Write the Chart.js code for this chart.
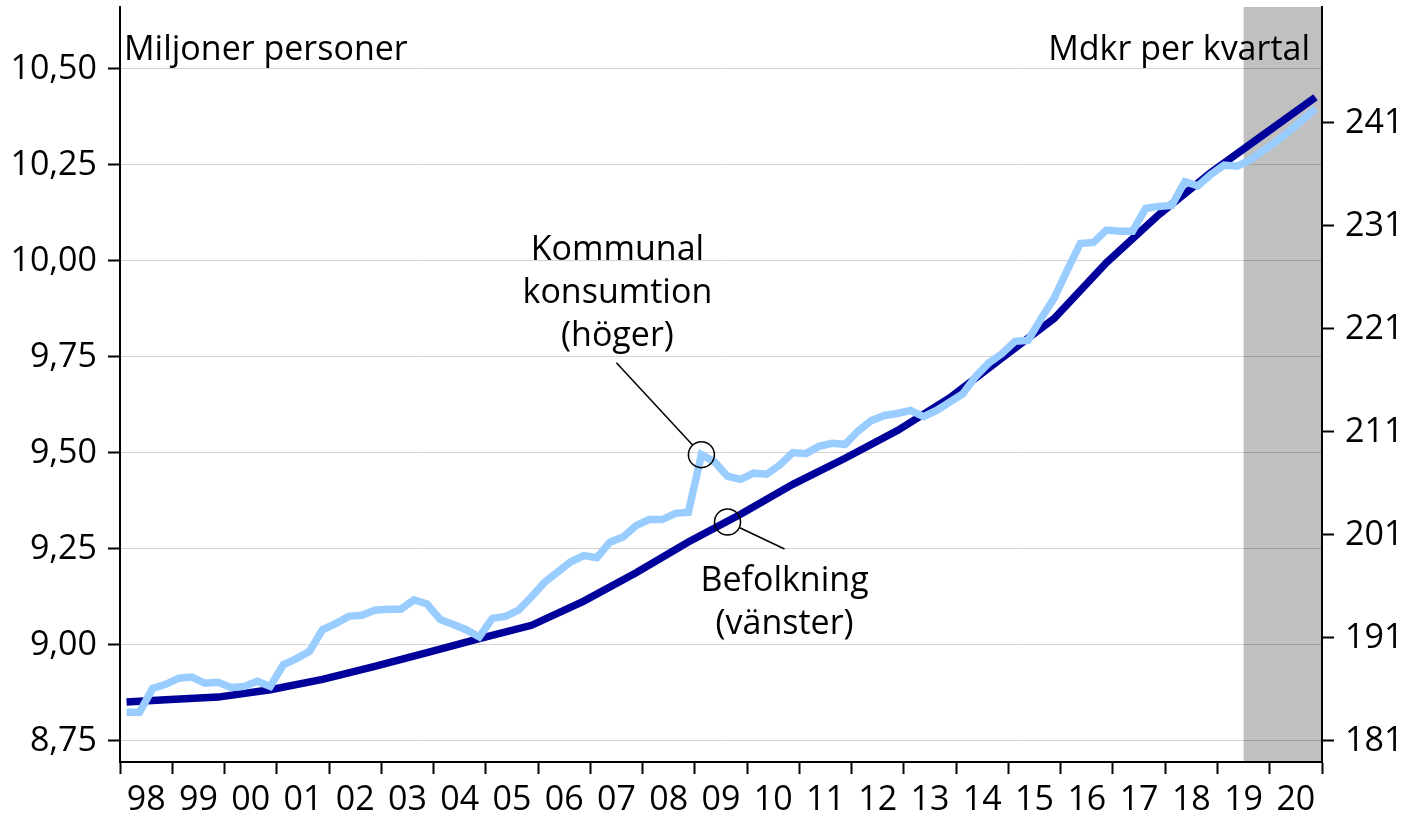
<!DOCTYPE html>
<html>
<head>
<meta charset="utf-8">
<script src="https://cdn.jsdelivr.net/npm/chart.js@4.4.1/dist/chart.umd.min.js"></script>
<style>
  html,body{margin:0;padding:0;background:#fff;}
  #wrap{width:1403px;height:818px;}
</style>
</head>
<body>
<div id="wrap"><canvas id="chart" width="1403" height="818"></canvas></div>
<script>
/* data */
const years = ['98','99','00','01','02','03','04','05','06','07','08','09','10','11','12','13','14','15','16','17','18','19','20'];

// Befolkning (miljoner), first quarter 1998 then each Q4
const popStart = 8.851;
const popYearEnd = [8.857, 8.864, 8.883, 8.910, 8.944, 8.980, 9.016, 9.051, 9.114, 9.188, 9.268, 9.340,
                    9.418, 9.486, 9.558, 9.643, 9.747, 9.850, 9.995, 10.120, 10.230, 10.328, 10.426];

// Kommunal konsumtion (mdkr per kvartal), 1998 Q1 .. 2020 Q4
const consumption = [
  183.8, 183.8, 186.1, 186.5, 187.1, 187.2, 186.6, 186.7, 186.2, 186.3, 186.8, 186.3,
  188.4, 189.0, 189.7, 191.8, 192.4, 193.1, 193.2, 193.7, 193.8, 193.8, 194.7, 194.3,
  192.8, 192.3, 191.8, 191.1, 192.9, 193.1, 193.7, 195.0, 196.4, 197.4, 198.4, 199.0,
  198.8, 200.3, 200.8, 201.9, 202.5, 202.5, 203.1, 203.2, 208.8, 208.1, 206.7, 206.4,
  207.0, 206.9, 207.8, 209.0, 208.9, 209.6, 209.9, 209.8, 211.1, 212.1, 212.6, 212.8,
  213.1, 212.5, 213.1, 213.9, 214.7, 216.4, 217.7, 218.6, 219.8, 219.9, 222.0, 224.0,
  226.7, 229.3, 229.4, 230.6, 230.5, 230.5, 232.7, 232.9, 233.0, 235.3, 234.9, 236.0,
  236.9, 236.8, 237.4, 238.3, 239.2, 240.2, 241.3, 242.4
];

const leftTicks  = [8.75, 9.00, 9.25, 9.50, 9.75, 10.00, 10.25, 10.50];
const rightTicks = [181, 191, 201, 211, 221, 231, 241];
const forecastFrom = 86;   // quarter index where the shaded forecast starts (2019 Q3)

const FONT = '"Open Sans", "Noto Sans", sans-serif';
const FS = 34;
const DARK = '#00009b', LIGHT = '#99ccff';

Chart.defaults.font.family = FONT;
Chart.defaults.color = '#000';

const consPts = consumption.map((v,i)=>({x:i+0.5, y:v}));
const popPts = [{x:0.5, y:popStart}].concat(popYearEnd.map((v,k)=>({x:4*k+3.5, y:v})));

// no auto padding from tick labels, the plot box is fixed
const noPad = s => { s.paddingTop = 0; s.paddingBottom = 0; s.paddingLeft = 0; s.paddingRight = 0; };

// shaded forecast period, under the grid
const shadePlugin = {
  id:'shade',
  beforeDraw(chart){
    const {ctx, chartArea:a, scales:{x}} = chart;
    const x0 = x.getPixelForValue(forecastFrom);
    ctx.save();
    ctx.fillStyle = '#c0c0c0';
    ctx.fillRect(x0, a.top, a.right-x0, a.bottom-a.top);
    ctx.restore();
  }
};

// unit labels and line call-outs
const notesPlugin = {
  id:'notes',
  afterDraw(chart){
    const {ctx, chartArea:a, scales:{x, yL, yR}} = chart;
    ctx.save();
    ctx.fillStyle = '#000';
    ctx.font = `${FS}px ${FONT}`;
    ctx.textBaseline = 'alphabetic';
    ctx.textAlign = 'left';
    ctx.fillText('Miljoner personer', a.left+4, 60);
    ctx.textAlign = 'right';
    ctx.fillText('Mdkr per kvartal', a.right-12, 60);

    const callout = (cx, cy, ex, ey, lines, tx, ty0) => {
      ctx.strokeStyle = '#000';
      ctx.lineWidth = 1.5;
      ctx.beginPath();
      ctx.arc(cx, cy, 13, 0, Math.PI*2);
      ctx.stroke();
      const dx = ex-cx, dy = ey-cy, d = Math.hypot(dx,dy);
      ctx.beginPath();
      ctx.moveTo(cx+dx/d*13, cy+dy/d*13);
      ctx.lineTo(ex, ey);
      ctx.stroke();
      ctx.textAlign = 'center';
      lines.forEach((t,i)=>ctx.fillText(t, tx, ty0 + i*43));
    };

    // Kommunal konsumtion, at the 2009 Q1 peak
    let cx = x.getPixelForValue(44.5), cy = yR.getPixelForValue(consumption[44]);
    callout(cx, cy, cx-85, cy-92, ['Kommunal','konsumtion','(höger)'], cx-84, cy-195);

    // Befolkning
    cx = x.getPixelForValue(46.5); cy = yL.getPixelForValue(9.32);
    callout(cx, cy, cx+57, cy+27, ['Befolkning','(vänster)'], cx+57, cy+69);
    ctx.restore();
  }
};

new Chart(document.getElementById('chart'), {
  type:'line',
  data:{
    datasets:[
      {label:'Kommunal konsumtion (höger)', data:consPts, yAxisID:'yR',
       borderColor:LIGHT, borderWidth:7.5, pointRadius:0, tension:0},
      {label:'Befolkning (vänster)', data:popPts, yAxisID:'yL',
       borderColor:DARK, borderWidth:7.5, pointRadius:0, tension:0}
    ]
  },
  options:{
    responsive:false, animation:false, devicePixelRatio:1,
    layout:{padding:{top:7, left:0, right:0, bottom:0}},
    plugins:{legend:{display:false}, tooltip:{enabled:false}},
    scales:{
      x:{
        type:'linear', min:0, max:92,
        afterBuildTicks:s=>{ s.ticks = []; for(let v=0; v<=92; v+=2) s.ticks.push({value:v}); },
        afterFit:s=>{ s.height = 56; noPad(s); },
        ticks:{autoSkip:false, maxRotation:0, padding:6, font:{size:FS}, color:'#000',
               callback:v=> v%4===2 ? years[(v-2)/4] : ''},
        grid:{drawOnChartArea:false, tickLength:12, tickWidth:2,
              tickColor:c=> (c.tick && c.tick.value%4===0) ? '#000' : 'rgba(0,0,0,0)'},
        border:{color:'#000', width:2}
      },
      yL:{
        position:'left', min:8.695, max:10.661,
        afterBuildTicks:s=>{ s.ticks = leftTicks.map(v=>({value:v})); },
        afterFit:s=>{ s.width = 120; noPad(s); },
        ticks:{padding:11, font:{size:FS}, color:'#000',
               callback:v=> v.toFixed(2).replace('.', ',')},
        grid:{color:'rgba(0,0,0,0.17)', lineWidth:1, tickLength:12, tickWidth:2, tickColor:'#000'},
        border:{color:'#000', width:2}
      },
      yR:{
        position:'right', min:178.96, max:252.26,
        afterBuildTicks:s=>{ s.ticks = rightTicks.map(v=>({value:v})); },
        afterFit:s=>{ s.width = 81; noPad(s); },
        ticks:{padding:11, font:{size:FS}, color:'#000'},
        grid:{drawOnChartArea:false, tickLength:12, tickWidth:2, tickColor:'#000'},
        border:{color:'#000', width:2}
      }
    }
  },
  plugins:[shadePlugin, notesPlugin]
});
</script>
</body>
</html>
